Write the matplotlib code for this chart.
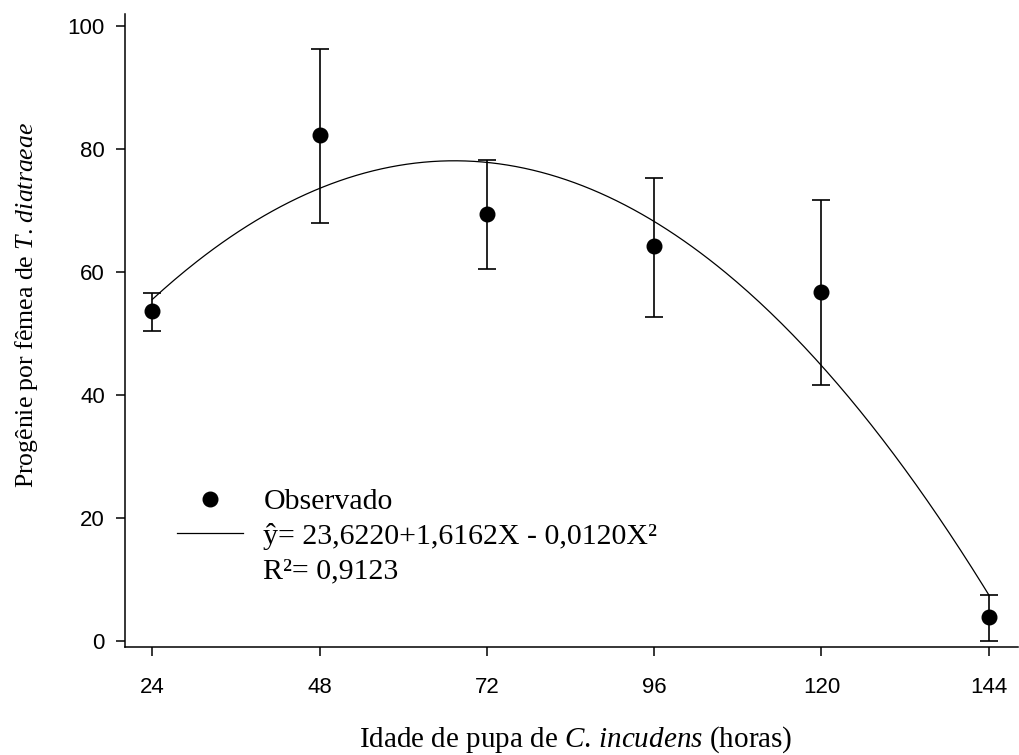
import numpy as np
import matplotlib
matplotlib.use("Agg")
import matplotlib.pyplot as plt
from matplotlib.lines import Line2D

# Observed progeny per female (mean and error bar limits)
idade = [24, 48, 72, 96, 120, 144]
progenie = [53.7, 82.2, 69.4, 64.2, 56.7, 3.9]
erro_sup = [56.6, 96.2, 78.1, 75.3, 71.7, 7.4]
erro_inf = [50.4, 67.9, 60.5, 52.6, 41.6, 0.0]

# fitted quadratic model
b0, b1, b2 = 23.6220, 1.6162, -0.0120
xticks = [24, 48, 72, 96, 120, 144]
yticks = [0, 20, 40, 60, 80, 100]

serif = "Liberation Serif"
sans = "Liberation Sans"
plt.rcParams["font.family"] = sans
plt.rcParams["mathtext.fontset"] = "custom"
plt.rcParams["mathtext.it"] = "Liberation Serif:italic"
plt.rcParams["mathtext.rm"] = "Liberation Serif"

fig = plt.figure(figsize=(10.19, 7.55), dpi=100)
ax = fig.add_axes([0.1227, 0.1434, 0.8763, 0.8381])

y = np.array(progenie)
yerr = [y - np.array(erro_inf), np.array(erro_sup) - y]
ax.errorbar(idade, progenie, yerr=yerr, fmt="o", color="black", ms=10.5,
            elinewidth=1.2, capsize=6.5, capthick=1.2, zorder=3)

xs = np.linspace(idade[0], idade[-1], 300)
ax.plot(xs, b0 + b1 * xs + b2 * xs ** 2, color="black", lw=0.9, zorder=2)

ax.set_xlim(20.1, 148.2)
ax.set_ylim(-0.93, 101.9)
ax.set_xticks(xticks)
ax.set_yticks(yticks)
ax.spines["top"].set_visible(False)
ax.spines["right"].set_visible(False)
for s in ["left", "bottom"]:
    ax.spines[s].set_linewidth(1.1)
ax.tick_params(direction="out", length=6.5, width=1.1, labelsize=16)
ax.tick_params(axis="y", pad=8)
ax.tick_params(axis="x", pad=15)

ax.set_xlabel("Idade de pupa de $C$. $incudens$ (horas)", fontfamily=serif,
              fontsize=21)
ax.xaxis.set_label_coords(0.505, -0.123)
ax.xaxis.label.set_va("top")
ax.set_ylabel("Progênie por fêmea de $T$. $diatraeae$", fontfamily=serif,
              fontsize=18.5)
ax.yaxis.set_label_coords(-0.095, 0.54)

handles = [Line2D([], [], ls="none", marker="o", color="black", ms=10.5),
           Line2D([], [], color="black", lw=0.9),
           Line2D([], [], ls="none")]
labels = ["Observado", "ŷ= 23,6220+1,6162X - 0,0120X²", "R²= 0,9123"]
ax.legend(handles, labels, loc="upper left", bbox_to_anchor=(0.058, 0.25),
          frameon=False, prop={"family": serif, "size": 21.5}, handlelength=2.2,
          handletextpad=0.7, labelspacing=0.25, borderpad=0, borderaxespad=0)

fig.savefig("out.png", dpi=100)
